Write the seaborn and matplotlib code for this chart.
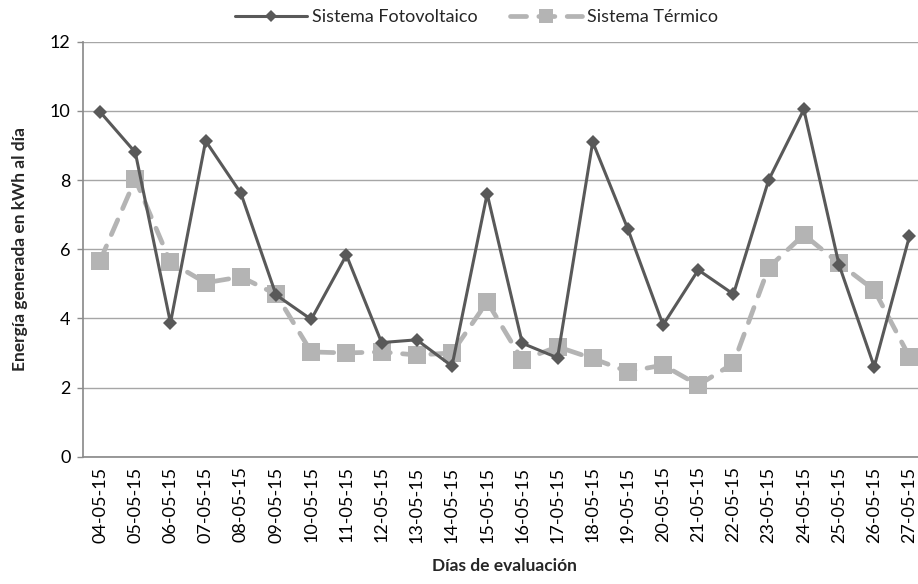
import matplotlib
matplotlib.use("Agg")
import matplotlib.pyplot as plt
import seaborn as sns
import pandas as pd

dias = ["04-05-15", "05-05-15", "06-05-15", "07-05-15", "08-05-15", "09-05-15",
        "10-05-15", "11-05-15", "12-05-15", "13-05-15", "14-05-15", "15-05-15",
        "16-05-15", "17-05-15", "18-05-15", "19-05-15", "20-05-15", "21-05-15",
        "22-05-15", "23-05-15", "24-05-15", "25-05-15", "26-05-15", "27-05-15"]
fotovoltaico = [9.97, 8.8, 3.87, 9.13, 7.62, 4.68, 3.97, 5.83, 3.3, 3.38, 2.62, 7.6,
                3.28, 2.86, 9.1, 6.58, 3.81, 5.4, 4.7, 8.0, 10.04, 5.55, 2.6, 6.37]
termico = [5.67, 8.02, 5.62, 5.03, 5.2, 4.7, 3.03, 3.0, 3.03, 2.94, 3.0, 4.48,
           2.79, 3.18, 2.84, 2.46, 2.65, 2.07, 2.7, 5.47, 6.42, 5.59, 4.82, 2.89]
y_ticks = [0, 2, 4, 6, 8, 10, 12]

sns.set_theme(style="white")
plt.rcParams['font.family'] = ['Lato', 'DejaVu Sans']

df = pd.DataFrame({"dia": dias, "Sistema Fotovoltaico": fotovoltaico, "Sistema Térmico": termico})
df["pos"] = range(len(dias))

fig = plt.figure(figsize=(9.18, 5.84), dpi=100)
ax = fig.add_axes([82.5 / 918, 1 - 456.7 / 584, 844.5 / 918, (456.7 - 41.7) / 584])

sns.lineplot(data=df, x="pos", y="Sistema Fotovoltaico", ax=ax, color="#595959",
             linewidth=2.2, marker="D", markersize=7.5, markeredgewidth=0,
             label="Sistema Fotovoltaico", sort=False, zorder=3)
sns.lineplot(data=df, x="pos", y="Sistema Térmico", ax=ax, color="#b4b4b4",
             linewidth=3.4, marker="s", markersize=13, markeredgewidth=0,
             dashes=False, label="Sistema Térmico", sort=False, zorder=2)
ln = ax.lines[1]
ln.set_linestyle((0, (3.4, 2.6)))
ln.set_dash_capstyle("round")

ax.set_xlim(-0.5, len(dias) - 0.5)
ax.set_ylim(0, 12)
ax.set_yticks(y_ticks)
ax.set_xticks(range(len(dias)))
ax.set_xticklabels(dias, rotation=90)
ax.tick_params(axis="both", labelsize=13, labelcolor="black")
ax.tick_params(axis="x", length=0, pad=7)
ax.tick_params(axis="y", length=4.5, width=1, color="#8c8c8c", direction="out", pad=4, left=True)
ax.yaxis.grid(True, color="#a6a6a6", linewidth=1)
ax.set_axisbelow(True)
for s in ["top", "right"]:
    ax.spines[s].set_visible(False)
ax.spines["left"].set_color("#8c8c8c")
ax.spines["bottom"].set_color("#8c8c8c")

ax.set_xlabel("Días de evaluación", fontsize=12.5, fontweight="bold", labelpad=11)
ax.set_ylabel("Energía generada en kWh al día", fontsize=12.5, fontweight="bold", labelpad=16)

ax.get_legend().remove()
handles, labels = ax.get_legend_handles_labels()
leg = fig.legend(handles, labels, loc="upper center", bbox_to_anchor=(0.519, 1.012), ncol=2,
                 frameon=False, fontsize=13, handlelength=4.0, columnspacing=1.8,
                 handletextpad=0.25)
leg.legend_handles[1].set_markersize(10)
leg.legend_handles[0].set_markersize(6.5)

fig.savefig("out.png", dpi=100)
